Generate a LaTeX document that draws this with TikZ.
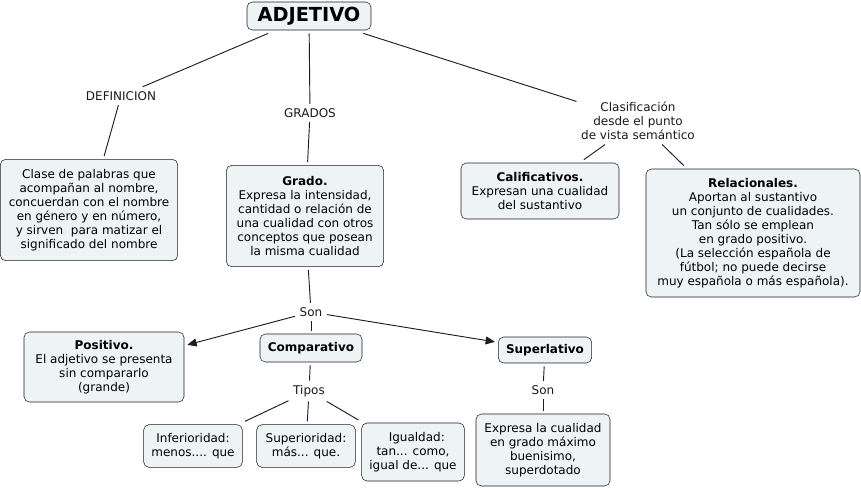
\documentclass[tikz,border=0pt]{standalone}
\usepackage{fontspec}
\setmainfont{DejaVu Sans}
\usetikzlibrary{arrows.meta,positioning}
\definecolor{boxCol}{RGB}{238,243,245}
\definecolor{lineCol}{RGB}{30,30,30}
\tikzset{
  concept/.style={draw=lineCol,rounded corners=4pt,fill=boxCol,align=center,
                  inner sep=1pt,outer sep=2.5pt,font=\fontsize{9}{10.5}\selectfont},
  link/.style={align=center,inner sep=1pt,outer sep=2.5pt,
               font=\fontsize{9}{10.5}\selectfont,text=black!90},
  conn/.style={draw=lineCol,line width=0.7pt},
  flow/.style={conn,-{Triangle[length=7pt,width=6pt]}},
}
\begin{document}
\begin{tikzpicture}[x=0.75pt,y=-0.75pt]
    \useasboundingbox (0,0) rectangle (861,487);
    % --- root ---
    \node[concept,minimum width=93pt,minimum height=21pt,
          font=\fontsize{14.5}{16}\selectfont\bfseries] (adj) at (309,16) {ADJETIVO};
    % --- linking phrases, first level ---
    \node[link] (lDef) at (121,96) {DEFINICION};
    \node[link] (lGra) at (310,113) {GRADOS};
    \node[link] (lCla) at (638,121) {Clasificación\\desde el punto\\de vista semántico};
    % --- second level ---
    \node[concept,minimum width=133pt,minimum height=76pt] (def) at (89,210)
        {Clase de palabras que\\ acompañan al nombre,\\concuerdan con el nombre\\en género y en número,\\ y sirven\ \ para matizar el\\significado del nombre};
    \node[concept,minimum width=118pt,minimum height=76pt] (grado) at (305,216)
        {\textbf{Grado.}\\Expresa la intensidad,\\cantidad o relación de\\una cualidad con otros\\conceptos que posean\\la misma cualidad};
    \node[concept,minimum width=118.5pt,minimum height=42pt] (calif) at (540,191)
        {\textbf{Calificativos.}\\Expresan una cualidad\\del sustantivo};
    \node[concept,minimum width=160.5pt,minimum height=96pt] (relac) at (753,233)
        {\textbf{Relacionales.}\\Aportan al sustantivo\\ un conjunto de cualidades.\\ Tan sólo se emplean\\ en grado positivo.\\ (La selección española de\\fútbol; no puede decirse\\ muy española o más española).};
    % --- grados ---
    \node[link] (lSon) at (311,312) {Son};
    \node[concept,minimum width=120pt,minimum height=52.5pt] (posit) at (104,367)
        {\textbf{Positivo.}\\El adjetivo se presenta\\ sin compararlo\\ (grande)};
    \node[concept,minimum width=76.5pt,minimum height=21pt] (compar) at (311,348)
        {\textbf{Comparativo}};
    \node[concept,minimum width=70pt,minimum height=19.5pt] (superl) at (545,350)
        {\textbf{Superlativo}};
    % --- comparativo ---
    \node[link] (lTip) at (309,391) {Tipos};
    \node[concept,minimum width=74pt,minimum height=32pt] (infer) at (193,446)
        {Inferioridad:\\menos.... que};
    \node[concept,minimum width=74pt,minimum height=32pt] (super) at (306,446)
        {Superioridad:\\más... que.};
    \node[concept,minimum width=77pt,minimum height=43.5pt] (igual) at (413,452)
        {\ \ Igualdad:\\tan... como,\\igual de... que};
    % --- superlativo ---
    \node[link] (lSon2) at (543,390) {Son};
    \node[concept,minimum width=100.5pt,minimum height=54pt] (maxim) at (543,450)
        {Expresa la cualidad\\ en grado máximo\\buenisimo,\\superdotado};
    % --- connectors ---
    \draw[conn] (adj) -- (lDef);
    \draw[conn] (lDef) -- (def);
    \draw[conn] (adj) -- (lGra);
    \draw[conn] (lGra) -- (grado);
    \draw[conn] (adj) -- (lCla);
    \draw[conn] (lCla) -- (calif);
    \draw[conn] (lCla) -- (relac);
    \draw[conn] (grado) -- (lSon);
    \draw[flow] (lSon) -- (posit);
    \draw[conn] (lSon) -- (compar);
    \draw[flow] (lSon) -- (superl);
    \draw[conn] (compar) -- (lTip);
    \draw[conn] (lTip) -- (infer);
    \draw[conn] (lTip) -- (super);
    \draw[conn] (lTip) -- (igual);
    \draw[conn] (superl) -- (lSon2);
    \draw[conn] (lSon2) -- (maxim);
\end{tikzpicture}
\end{document}
